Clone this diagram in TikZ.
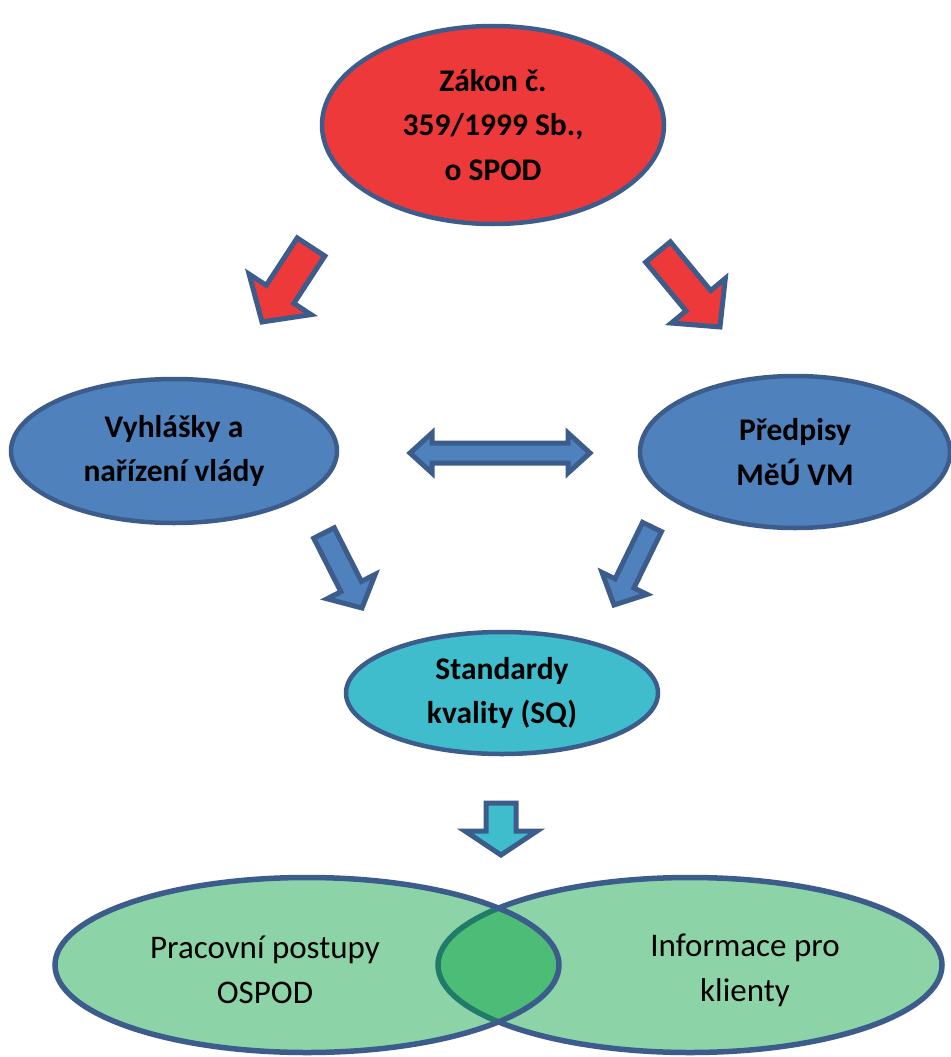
\documentclass[tikz,border=0pt]{standalone}
\usepackage{fontspec}
\setmainfont{Carlito}
\usetikzlibrary{shapes.geometric}
\definecolor{edgeblue}{RGB}{60,93,140}
\definecolor{lawred}{RGB}{237,57,58}
\definecolor{midblue}{RGB}{79,129,189}
\definecolor{sqcyan}{RGB}{64,189,205}
\definecolor{venngreen}{RGB}{0,160,62}
\tikzset{
  blob/.style={ellipse, draw=edgeblue, line width=4.5pt, inner sep=0pt, align=center},
  boldtext/.style={font=\bfseries\fontsize{31.5}{44.5}\selectfont},
  plaintext/.style={font=\fontsize{33}{45}\selectfont, align=center},
  redarrow/.style={fill=lawred, draw=edgeblue, line width=5pt, line join=miter},
  bluearrow/.style={fill=midblue, draw=edgeblue, line width=5pt, line join=miter},
  cyanarrow/.style={fill=sqcyan, draw=edgeblue, line width=5pt, line join=miter},
  venn/.style={ellipse, draw=edgeblue, line width=5.5pt, fill=venngreen, fill opacity=0.45, draw opacity=1, inner sep=0pt},
}
% block arrow: #1 style, (#2,#3) tail, (#4,#5) tip, #6 shaft half width, #7 head half width, #8 head length
\newcommand{\blockarr}[8]{%
  \pgfmathsetmacro{\baang}{atan2(-(#5-#3),#4-#2)}%
  \pgfmathsetmacro{\balen}{veclen(#4-#2,#5-#3)}%
  \pgfmathsetmacro{\babase}{\balen-#8}%
  \begin{scope}[shift={(#2,#3)}, rotate=\baang]
    \draw[#1] (0,-#6) -- (\babase,-#6) -- (\babase,-#7) -- (\balen,0)
      -- (\babase,#7) -- (\babase,#6) -- (0,#6) -- cycle;
  \end{scope}}
\begin{document}
\begin{tikzpicture}[x=1pt,y=-1pt]
\useasboundingbox (0,0) rectangle (950,1057);
\fill[white] (0,0) rectangle (950,1057);

% ellipses
\node[blob, fill=lawred, minimum width=342pt, minimum height=198pt, boldtext] (zakon) at (493,125) {Zákon č.\\359/1999 Sb.,\\o SPOD};
\node[blob, fill=midblue, minimum width=326pt, minimum height=144pt, boldtext] (vyhl) at (174,451) {Vyhlášky a\\nařízení vlády};
\node[blob, fill=midblue, minimum width=310pt, minimum height=152pt, boldtext] (predp) at (795,452) {Předpisy\\MěÚ VM};
\node[blob, fill=sqcyan, minimum width=312pt, minimum height=122pt, boldtext] (sq) at (502,693) {Standardy\\kvality (SQ)};

% block arrows
\blockarr{redarrow}{311}{247}{262}{322}{16.5}{37}{33}
\blockarr{redarrow}{658}{252}{720}{327}{16}{35}{34}
\blockarr{bluearrow}{324}{533}{362}{608}{11.5}{27}{24}
\blockarr{bluearrow}{652}{527}{614}{605}{10.5}{25}{24}
\blockarr{cyanarrow}{501}{803}{501}{855}{15}{36}{24}

% double arrow
\draw[bluearrow] (410,453) -- (432,433) -- (432,443) -- (568,443) -- (568,433)
  -- (590,453) -- (568,473) -- (568,463) -- (432,463) -- (432,473) -- cycle;

% venn
\node[venn, minimum width=504pt, minimum height=175pt] (info) at (690,965) {};
\node[venn, minimum width=504pt, minimum height=175pt] (postupy) at (307,965) {};
\node[plaintext] (postupytext) at (265,970) {Pracovní postupy\\OSPOD};
\node[plaintext] (infotext) at (745,970) {Informace pro\\klienty};
\end{tikzpicture}
\end{document}
